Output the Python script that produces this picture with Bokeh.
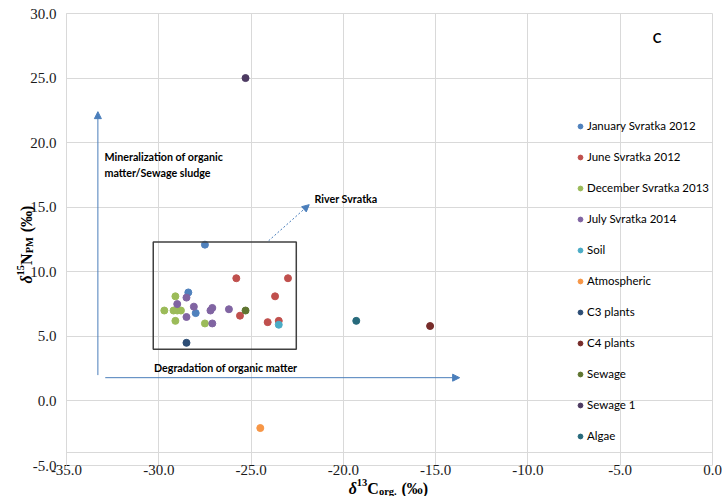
import math
from bokeh.plotting import figure
from bokeh.models import (FixedTicker, PrintfTickFormatter, Legend, LegendItem, Label,
                          Arrow, NormalHead, BoxAnnotation, Range1d, LinearAxis, Grid)
from bokeh.embed import file_html
from bokeh.resources import INLINE

# ---------------- data ----------------
series_names = ["January Svratka 2012", "June Svratka 2012", "December Svratka 2013",
                "July Svratka 2014", "Soil", "Atmospheric", "C3 plants", "C4 plants",
                "Sewage", "Sewage 1", "Algae"]
series_colors = ["#4F81BD", "#C0504D", "#9BBB59", "#8064A2", "#4BACC6", "#F79646",
                 "#2C4D75", "#772C2A", "#5F7530", "#4D3B62", "#276A7C"]

jan_x = [-27.5, -28.4, -28.0]
jan_y = [12.1, 8.4, 6.8]
jun_x = [-25.8, -23.0, -23.7, -25.6, -24.1, -23.5]
jun_y = [9.5, 9.5, 8.1, 6.6, 6.1, 6.2]
dec_x = [-29.1, -29.7, -29.2, -29.0, -28.8, -29.1, -27.5]
dec_y = [8.1, 7.0, 7.0, 7.0, 7.0, 6.2, 6.0]
jul_x = [-29.0, -28.5, -28.1, -27.2, -27.1, -26.2, -28.5, -27.1]
jul_y = [7.5, 8.0, 7.3, 7.0, 7.2, 7.1, 6.5, 6.0]
soil_x, soil_y = [-23.5], [5.9]
atm_x, atm_y = [-24.5], [-2.1]
c3_x, c3_y = [-28.5], [4.5]
c4_x, c4_y = [-15.3], [5.8]
sew_x, sew_y = [-25.3], [7.0]
sew1_x, sew1_y = [-25.3], [25.0]
alg_x, alg_y = [-19.3], [6.2]

series_x = [jan_x, jun_x, dec_x, jul_x, soil_x, atm_x, c3_x, c4_x, sew_x, sew1_x, alg_x]
series_y = [jan_y, jun_y, dec_y, jul_y, soil_y, atm_y, c3_y, c4_y, sew_y, sew1_y, alg_y]

x_ticks = [-35, -30, -25, -20, -15, -10, -5, 0]
y_ticks = [-5, 0, 5, 10, 15, 20, 25, 30]
X_MIN, X_MAX = -35, 0
Y_MIN, Y_MAX = -5, 30
X_AXIS_CROSS = -4.0

# ---------------- geometry (plot area inside the canvas) ----------------
W, H = 722, 496
PL, PR, PT, PB = 66, 712, 13, 465
SX = (PR - PL) / (X_MAX - X_MIN)
SY = (PB - PT) / (Y_MAX - Y_MIN)

p = figure(width=W, height=H, output_backend="svg", toolbar_location=None,
           x_range=Range1d(X_MIN - PL / SX, X_MAX + (W - PR) / SX),
           y_range=Range1d(Y_MIN - (H - PB) / SY, Y_MAX + PT / SY),
           min_border_left=0, min_border_right=0, min_border_top=0, min_border_bottom=0,
           x_axis_location=None, y_axis_location=None)
p.outline_line_color = None
p.background_fill_color = "white"
p.border_fill_color = "white"
p.xgrid.visible = False
p.ygrid.visible = False

GRID = "#D9D9D9"
TICK_FONT = "Liberation Serif"

xgrid = Grid(dimension=0, ticker=FixedTicker(ticks=x_ticks), bounds=(X_MIN, X_MAX),
             grid_line_color=GRID, grid_line_width=1)
ygrid = Grid(dimension=1, ticker=FixedTicker(ticks=y_ticks), bounds=(Y_MIN, Y_MAX),
             grid_line_color=GRID, grid_line_width=1)
xgrid.cross_bounds = (Y_MIN, Y_MAX)
ygrid.cross_bounds = (X_MIN, X_MAX)
p.add_layout(xgrid)
p.add_layout(ygrid)

xaxis = LinearAxis(ticker=FixedTicker(ticks=x_ticks), formatter=PrintfTickFormatter(format="%.1f"),
                   fixed_location=X_AXIS_CROSS, bounds=(X_MIN, X_MAX))
yaxis = LinearAxis(ticker=FixedTicker(ticks=y_ticks), formatter=PrintfTickFormatter(format="%.1f"),
                   fixed_location=X_MIN, bounds=(Y_MIN, Y_MAX))
for ax in (xaxis, yaxis):
    ax.axis_line_color = GRID
    ax.major_tick_out = 0
    ax.major_tick_in = 0
    ax.minor_tick_out = 0
    ax.minor_tick_in = 0
    ax.major_label_text_font = TICK_FONT
    ax.major_label_text_font_size = "15px"
    ax.major_label_text_color = "#1a1a1a"
xaxis.major_label_standoff = 12
yaxis.major_label_standoff = 10
p.add_layout(xaxis, "below")
p.add_layout(yaxis, "left")

# ---------------- annotations ----------------
ARROW_C = "#4A7EBB"
p.add_layout(BoxAnnotation(left=-30.3, right=-22.55, bottom=4.0, top=12.3,
                           fill_alpha=0, line_color="#404040", line_alpha=1, line_width=1.5))
p.add_layout(Arrow(x_start=-33.3, y_start=2.0, x_end=-33.3, y_end=22.4,
                   line_color=ARROW_C, line_width=1,
                   end=NormalHead(size=7, fill_color=ARROW_C, line_color=ARROW_C)))
p.add_layout(Arrow(x_start=-32.9, y_start=1.8, x_end=-13.7, y_end=1.8,
                   line_color=ARROW_C, line_width=1,
                   end=NormalHead(size=7, fill_color=ARROW_C, line_color=ARROW_C)))
p.add_layout(Arrow(x_start=-24.05, y_start=12.4, x_end=-21.85, y_end=15.2,
                   line_color=ARROW_C, line_width=1, line_dash="2 2",
                   end=NormalHead(size=7, fill_color=ARROW_C, line_color=ARROW_C)))

ANN_FONT = "Lato"
def ann(text, x, y, size="10.7px", align="left", baseline="middle"):
    p.add_layout(Label(x=x, y=y, text=text, text_font=ANN_FONT, text_font_size=size,
                       text_font_style="bold", text_color="#000000",
                       text_align=align, text_baseline=baseline))

ann("Mineralization of organic", -32.94, 18.9)
ann("matter/Sewage sludge", -32.94, 17.66)
ann("River Svratka", -21.56, 15.7)
ann("Degradation of organic matter", -30.26, 2.62)
ann("C", -3.0, 28.08, size="13px", align="center")

# ---------------- scatter series ----------------
items = []
for name, col, xs, ys in zip(series_names, series_colors, series_x, series_y):
    r = p.scatter(xs, ys, size=7, fill_color=col, line_color=col, marker="circle")
    items.append(LegendItem(label=name, renderers=[r]))

legend = Legend(items=items, location=(574, 53), orientation="vertical",
                glyph_width=12, glyph_height=12, label_height=15, spacing=16,
                label_standoff=1, padding=0, margin=0,
                label_text_font=ANN_FONT, label_text_font_size="11.5px",
                label_text_color="#000000",
                background_fill_alpha=0, border_line_color=None)
p.add_layout(legend, "center")

# ---------------- rich axis titles ----------------
EM = {"δ": 0.5, "0": 0.5, "1": 0.5, "3": 0.5, "5": 0.5, "N": 0.722, "C": 0.722, "P": 0.611,
      "M": 0.944, "o": 0.5, "r": 0.444, "g": 0.5, ".": 0.25, " ": 0.3, "(": 0.333,
      ")": 0.333, "‰": 1.0}

def tw(text, size):
    return sum(EM.get(c, 0.5) for c in text) * size

MAIN, SMALL = 16, 10.5
x_title = [("δ", MAIN, "bold italic", 0), ("13", SMALL, "bold", 6), ("C", MAIN, "bold", 0),
           ("org.", SMALL, "bold", -3), (" (‰)", MAIN, "bold", 0)]
y_title = [("δ", MAIN, "bold italic", 0), ("15", SMALL, "bold", 6), ("N", MAIN, "bold", 0),
           ("PM", SMALL, "bold", -3), (" (‰)", MAIN, "bold", 0)]

def rich(pieces, start_px, base_px, vertical):
    pos = start_px
    for text, size, style, shift in pieces:
        lead = len(text) - len(text.lstrip(" "))
        adv = tw(" " * lead, size)
        pos = pos - adv if vertical else pos + adv
        text = text.lstrip(" ")
        if vertical:
            sx, sy, ang = base_px - shift, pos, math.pi / 2
        else:
            sx, sy, ang = pos, base_px - shift, 0
        p.add_layout(Label(x=X_MIN, y=Y_MIN, x_offset=sx - PL, y_offset=PB - sy, text=text,
                           angle=ang, text_font=TICK_FONT, text_font_size=f"{size}px",
                           text_font_style=style, text_align="left",
                           text_baseline="alphabetic", text_color="#000000"))
        pos = pos - tw(text, size) if vertical else pos + tw(text, size)

x_len = sum(tw(t, s) for t, s, _, _ in x_title)
y_len = sum(tw(t, s) for t, s, _, _ in y_title)
rich(x_title, 388 - x_len / 2, 488, False)
rich(y_title, 244 + y_len / 2, 26, True)

open("out.html", "w").write(file_html(p, INLINE))
